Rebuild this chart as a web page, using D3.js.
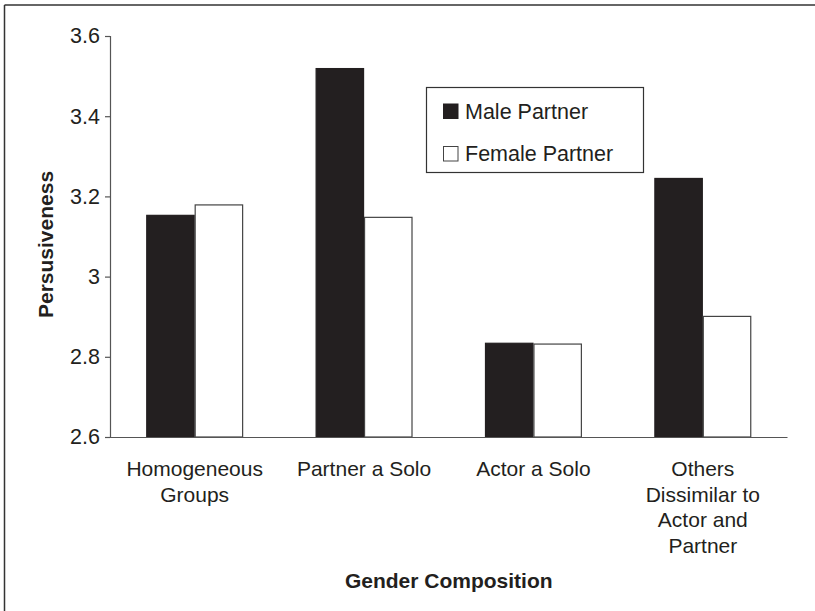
<!DOCTYPE html>
<html>
<head>
<meta charset="utf-8">
<script src="https://cdn.jsdelivr.net/npm/d3@7"></script>
<style>
  html, body { margin: 0; padding: 0; background: #fff; }
  svg { display: block; }
  text { font-family: "Liberation Sans", Arial, sans-serif; fill: #231f20; }
</style>
</head>
<body>
<svg id="chart" width="815" height="611"></svg>
<script>
const categories = [
  ["Homogeneous", "Groups"],
  ["Partner a Solo"],
  ["Actor a Solo"],
  ["Others", "Dissimilar to", "Actor and", "Partner"]
];
const seriesNames = ["Male Partner", "Female Partner"];
const maleValues = [3.154, 3.52, 2.835, 3.246];
const femaleValues = [3.18, 3.149, 2.833, 2.902];
const yTicks = [2.6, 2.8, 3, 3.2, 3.4, 3.6];
const yTitle = "Persusiveness";
const xTitle = "Gender Composition";

(function () {
const svg = d3.select("#chart");
const ink = "#231f20";
const axisColor = "#555";

// frame (top and left only)
svg.append("line").attr("x1", 4.5).attr("x2", 815).attr("y1", 5).attr("y2", 5)
  .attr("stroke", "#333").attr("stroke-width", 1.5);
svg.append("line").attr("x1", 4.5).attr("x2", 4.5).attr("y1", 5).attr("y2", 611)
  .attr("stroke", "#333").attr("stroke-width", 1.5);

const mLeft = 110, mRight = 787.5, mTop = 36, mBottom = 437;
const catIdx = categories.map((d, i) => i);

const x0 = d3.scaleBand().domain(catIdx).range([mLeft, mRight])
  .paddingInner(0.428).paddingOuter(0.214);
const x1 = d3.scaleBand().domain([0, 1]).range([0, x0.bandwidth()]);
const y = d3.scaleLinear().domain([2.6, 3.6]).range([mBottom, mTop]);

const data = catIdx.map(i => [maleValues[i], femaleValues[i]]);

const groups = svg.append("g").selectAll("g").data(data).join("g")
  .attr("transform", (d, i) => `translate(${x0(i)},0)`);

groups.selectAll("rect").data(d => d.map((v, s) => ({v, s}))).join("rect")
  .attr("x", d => x1(d.s) + 0.5)
  .attr("y", d => y(d.v) + 0.5)
  .attr("width", x1.bandwidth() - 1)
  .attr("height", d => y(2.6) - y(d.v) - 0.5)
  .attr("fill", d => d.s === 0 ? ink : "#fff")
  .attr("stroke", d => d.s === 0 ? ink : "#444")
  .attr("stroke-width", 1.2);

// y axis
const yAxis = d3.axisLeft(y).tickValues(yTicks).tickSize(5).tickPadding(5)
  .tickFormat(d3.format("~g"));
const gy = svg.append("g").attr("transform", `translate(${mLeft},0)`).call(yAxis);
gy.select(".domain").attr("stroke", axisColor).attr("stroke-width", 1.2);
gy.selectAll(".tick line").attr("stroke", axisColor).attr("stroke-width", 1.2);
gy.selectAll(".tick text").attr("font-size", 21.5).attr("fill", ink)
  .attr("font-family", "Liberation Sans, Arial, sans-serif");

// x axis line
const xAxis = d3.axisBottom(x0).tickSize(0).tickFormat("");
const gx = svg.append("g").attr("transform", `translate(0,${mBottom})`).call(xAxis);
gx.select(".domain").attr("stroke", axisColor).attr("stroke-width", 1.2)
  .attr("d", `M${mLeft},0.5H${mRight}`);

// category labels
const lab = svg.append("g").selectAll("text").data(categories).join("text")
  .attr("text-anchor", "middle")
  .attr("font-size", 21)
  .attr("x", (d, i) => x0(i) + x0.bandwidth() / 2)
  .attr("y", 476);
lab.selectAll("tspan").data(d => d).join("tspan")
  .attr("x", function() { return d3.select(this.parentNode).attr("x"); })
  .attr("dy", (d, i) => i === 0 ? 0 : 25.5)
  .text(d => d);

// axis titles
svg.append("text").attr("text-anchor", "middle").attr("font-weight", "bold")
  .attr("font-size", 21).attr("x", (mLeft + mRight) / 2).attr("y", 588).text(xTitle);
svg.append("text").attr("text-anchor", "middle").attr("font-weight", "bold")
  .attr("font-size", 21)
  .attr("transform", `translate(52.5,${(mTop + mBottom) / 2 + 8}) rotate(-90)`)
  .text(yTitle);

// legend
const lg = svg.append("g");
lg.append("rect").attr("x", 426.5).attr("y", 87.5).attr("width", 217).attr("height", 85)
  .attr("fill", "#fff").attr("stroke", "#333").attr("stroke-width", 1.2);
const items = lg.selectAll("g").data(seriesNames).join("g")
  .attr("transform", (d, i) => `translate(443.5,${104 + i * 42.5})`);
items.append("rect").attr("width", 14.5).attr("height", 14.5)
  .attr("fill", (d, i) => i === 0 ? ink : "#fff")
  .attr("stroke", (d, i) => i === 0 ? ink : "#444").attr("stroke-width", 1);
items.append("text").attr("x", 21.5).attr("y", 14.5).attr("font-size", 21.5).text(d => d);
})();
</script>
</body>
</html>
